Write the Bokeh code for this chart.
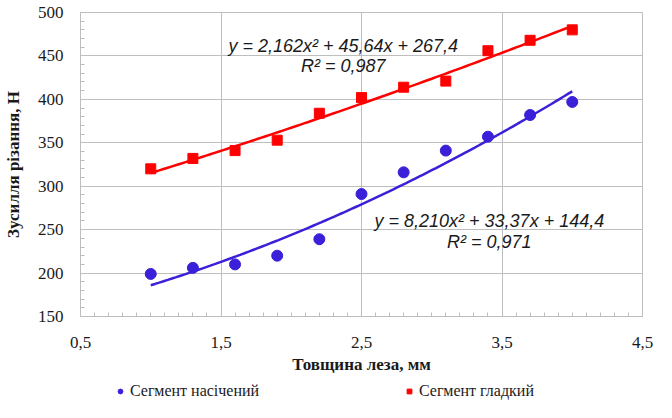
import numpy as np
from bokeh.plotting import figure
from bokeh.layouts import column
from bokeh.models import Range1d, FixedTicker, Legend, LegendItem, Label
from bokeh.embed import file_html
from bokeh.resources import INLINE

# ---- data ----
thickness = [1.0, 1.3, 1.6, 1.9, 2.2, 2.5, 2.8, 3.1, 3.4, 3.7, 4.0]
force_notched = [199, 206, 210, 220, 239, 291, 316, 341, 357, 382, 397]
force_smooth = [320, 332, 341, 353, 384, 402, 414, 421, 456, 468, 480]

coef_notched = [8.210, 33.37, 144.4]   # trendline y = a x^2 + b x + c
coef_smooth = [2.162, 45.64, 267.4]

name_notched = "Сегмент насічений"
name_smooth = "Сегмент гладкий"
eq_notched = "y = 8,210x² + 33,37x + 144,4"
r2_notched = "R² = 0,971"
eq_smooth = "y = 2,162x² + 45,64x + 267,4"
r2_smooth = "R² = 0,987"

x_ticks = [0.5, 1.5, 2.5, 3.5, 4.5]
x_tick_labels = ["0,5", "1,5", "2,5", "3,5", "4,5"]
y_ticks = [150, 200, 250, 300, 350, 400, 450, 500]

x_title = "Товщина леза, мм"
y_title = "Зусилля різання, Н"

# ---- styling ----
BLUE = "#3A20D8"
RED = "#FF0000"
GRID = "#BEBEBE"
TXT = "#1a1a1a"
SERIF = "Liberation Serif"
SANS = "Liberation Sans"

p = figure(width=656, height=380, output_backend="svg", toolbar_location=None,
           x_range=Range1d(0.5, 4.5), y_range=Range1d(150, 500),
           min_border_left=79, min_border_right=14, min_border_top=12,
           min_border_bottom=64)
p.background_fill_color = "white"
p.border_fill_color = "white"
p.outline_line_color = GRID
p.outline_line_width = 1

p.xaxis.ticker = FixedTicker(ticks=x_ticks,
                             minor_ticks=[round(v, 2) for v in np.arange(0.5, 4.51, 0.1)])
p.yaxis.ticker = FixedTicker(ticks=y_ticks, minor_ticks=list(range(150, 501, 10)))
p.xaxis.major_label_overrides = dict(zip(x_ticks, x_tick_labels))

for ax in (p.xaxis, p.yaxis):
    ax.axis_line_color = GRID
    ax.major_tick_in = 0
    ax.major_tick_out = 0
    ax.minor_tick_in = 4
    ax.minor_tick_out = 0
    ax.minor_tick_line_color = GRID
    ax.major_label_text_font = SERIF
    ax.major_label_text_font_size = "17px"
    ax.major_label_text_color = TXT
    ax.axis_label_text_font = SERIF
    ax.axis_label_text_font_style = "bold"
    ax.axis_label_text_font_size = "17px"
    ax.axis_label_text_color = TXT

p.xaxis.axis_label = x_title
p.yaxis.axis_label = y_title
p.xaxis.major_label_standoff = 20
p.yaxis.major_label_standoff = 17
p.xaxis.axis_label_standoff = 4
p.yaxis.axis_label_standoff = 12

p.xgrid.grid_line_color = GRID
p.ygrid.grid_line_color = GRID

# trendlines
xs = np.linspace(min(thickness), max(thickness), 100)
p.line(xs, np.polyval(coef_smooth, xs), line_color=RED, line_width=2.5)
p.line(xs, np.polyval(coef_notched, xs), line_color=BLUE, line_width=2.5)

p.scatter(thickness, force_notched, marker="circle", size=11,
          fill_color=BLUE, line_color=BLUE)
p.scatter(thickness, force_smooth, marker="square", size=10,
          fill_color=RED, line_color=RED)

# equation labels
for txt, x, y in [(eq_smooth, 2.37, 462), (r2_smooth, 2.37, 438),
                  (eq_notched, 3.41, 260), (r2_notched, 3.41, 236)]:
    p.add_layout(Label(x=x, y=y, text=txt, text_font=SANS, text_font_style="italic",
                       text_font_size="18px", text_color=TXT,
                       text_align="center", text_baseline="middle"))

# ---- legend strip (separate figure below the chart) ----
lg = figure(width=656, height=22, output_backend="svg", toolbar_location=None,
            x_range=Range1d(0.5, 4.5), y_range=Range1d(0, 1),
            x_axis_location=None, y_axis_location=None,
            min_border=0, min_border_left=0, min_border_right=0,
            min_border_top=0, min_border_bottom=0)
lg.outline_line_color = None
lg.grid.visible = False
lg.background_fill_color = "white"
lg.border_fill_color = "white"
# same series; values lie outside this strip's y-range, only the legend shows
ln = lg.scatter(thickness, force_notched, marker="circle", size=11,
                fill_color=BLUE, line_color=BLUE)
ls = lg.scatter(thickness, force_smooth, marker="square", size=10,
                fill_color=RED, line_color=RED)
legend = Legend(items=[LegendItem(label=name_notched, renderers=[ln]),
                       LegendItem(label=name_smooth, renderers=[ls])],
                orientation="horizontal", location=(34, 1),
                glyph_width=12, glyph_height=20, label_height=20,
                label_standoff=4, label_width=150, spacing=123,
                padding=0, margin=0, label_text_font=SERIF,
                label_text_font_size="16px", label_text_color=TXT,
                background_fill_alpha=0, border_line_alpha=0)
lg.add_layout(legend)

layout = column(p, lg, spacing=0)
open("out.html", "w").write(file_html(layout, INLINE))
